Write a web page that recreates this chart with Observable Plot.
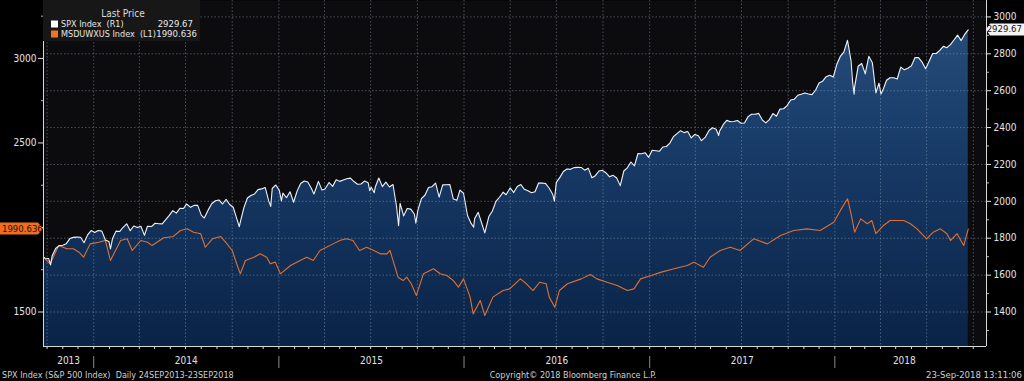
<!DOCTYPE html>
<html><head><meta charset="utf-8">
<script src="https://cdn.jsdelivr.net/npm/d3@7"></script>
<script src="https://cdn.jsdelivr.net/npm/@observablehq/plot@0.6"></script>
<style>
html,body{margin:0;padding:0;background:#000;}
#chart{width:1024px;height:381px;overflow:hidden;}
</style></head><body><div id="chart"></div>
<script>
// ---- SPX Index (right axis, R1)
const spxDates = ["2013-09-24","2013-09-27","2013-10-04","2013-10-08","2013-10-11","2013-10-18","2013-10-25","2013-11-01","2013-11-08","2013-11-15","2013-11-22","2013-11-29","2013-12-06","2013-12-13","2013-12-20","2013-12-27",
"2014-01-03","2014-01-10","2014-01-17","2014-01-24","2014-01-31","2014-02-03","2014-02-07","2014-02-14","2014-02-21","2014-02-28","2014-03-07","2014-03-14","2014-03-21","2014-03-28","2014-04-04","2014-04-11","2014-04-17","2014-04-25","2014-05-02","2014-05-09","2014-05-16","2014-05-23","2014-05-30","2014-06-06","2014-06-13","2014-06-20","2014-06-27","2014-07-03","2014-07-11","2014-07-18","2014-07-25","2014-08-01","2014-08-07","2014-08-15","2014-08-22","2014-08-29","2014-09-05","2014-09-12","2014-09-19","2014-09-26","2014-10-03","2014-10-10","2014-10-15","2014-10-17","2014-10-24","2014-10-31","2014-11-07","2014-11-14","2014-11-21","2014-11-28","2014-12-05","2014-12-12","2014-12-16","2014-12-19","2014-12-26",
"2015-01-02","2015-01-06","2015-01-09","2015-01-16","2015-01-23","2015-01-30","2015-02-06","2015-02-13","2015-02-20","2015-02-27","2015-03-06","2015-03-11","2015-03-13","2015-03-20","2015-03-27","2015-04-02","2015-04-10","2015-04-17","2015-04-24","2015-05-01","2015-05-08","2015-05-15","2015-05-22","2015-05-29","2015-06-05","2015-06-12","2015-06-19","2015-06-26","2015-06-29","2015-07-02","2015-07-08","2015-07-10","2015-07-17","2015-07-24","2015-07-31","2015-08-07","2015-08-14","2015-08-21","2015-08-25","2015-08-28","2015-09-04","2015-09-11","2015-09-18","2015-09-25","2015-09-28","2015-10-02","2015-10-09","2015-10-16","2015-10-23","2015-10-30","2015-11-06","2015-11-13","2015-11-20","2015-11-27","2015-12-04","2015-12-11","2015-12-18","2015-12-24","2015-12-31",
"2016-01-08","2016-01-15","2016-01-20","2016-01-22","2016-01-29","2016-02-05","2016-02-11","2016-02-19","2016-02-26","2016-03-04","2016-03-11","2016-03-18","2016-03-24","2016-04-01","2016-04-08","2016-04-15","2016-04-22","2016-04-29","2016-05-06","2016-05-13","2016-05-20","2016-05-27","2016-06-03","2016-06-10","2016-06-17","2016-06-24","2016-06-27","2016-07-01","2016-07-08","2016-07-15","2016-07-22","2016-07-29","2016-08-05","2016-08-12","2016-08-19","2016-08-26","2016-09-02","2016-09-09","2016-09-16","2016-09-23","2016-09-30","2016-10-07","2016-10-14","2016-10-21","2016-10-28","2016-11-04","2016-11-11","2016-11-18","2016-11-25","2016-12-02","2016-12-09","2016-12-16","2016-12-23","2016-12-30",
"2017-01-06","2017-01-13","2017-01-20","2017-01-27","2017-02-03","2017-02-10","2017-02-17","2017-02-24","2017-03-03","2017-03-10","2017-03-17","2017-03-24","2017-03-31","2017-04-07","2017-04-13","2017-04-21","2017-04-28","2017-05-05","2017-05-12","2017-05-17","2017-05-19","2017-05-26","2017-06-02","2017-06-09","2017-06-16","2017-06-23","2017-06-30","2017-07-07","2017-07-14","2017-07-21","2017-07-28","2017-08-04","2017-08-11","2017-08-18","2017-08-25","2017-09-01","2017-09-08","2017-09-15","2017-09-22","2017-09-29","2017-10-06","2017-10-13","2017-10-20","2017-10-27","2017-11-03","2017-11-10","2017-11-17","2017-11-24","2017-12-01","2017-12-08","2017-12-15","2017-12-22","2017-12-29",
"2018-01-05","2018-01-12","2018-01-19","2018-01-26","2018-02-02","2018-02-05","2018-02-08","2018-02-09","2018-02-16","2018-02-23","2018-03-02","2018-03-09","2018-03-16","2018-03-23","2018-03-29","2018-04-02","2018-04-06","2018-04-13","2018-04-20","2018-04-27","2018-05-04","2018-05-11","2018-05-18","2018-05-25","2018-06-01","2018-06-08","2018-06-15","2018-06-22","2018-06-29","2018-07-06","2018-07-13","2018-07-20","2018-07-27","2018-08-03","2018-08-10","2018-08-17","2018-08-24","2018-08-31","2018-09-07","2018-09-14","2018-09-21"];
const spxClose = [1697.42,1691.75,1690.50,1655.45,1703.20,1744.50,1759.77,1761.64,1770.61,1798.18,1804.76,1805.81,1805.09,1775.32,1818.32,1841.40,
1831.37,1842.37,1838.70,1790.29,1782.59,1741.89,1797.02,1838.63,1836.25,1859.45,1878.04,1841.13,1866.52,1857.62,1865.09,1815.69,1864.85,1863.40,1881.14,1878.48,1877.86,1900.53,1923.57,1949.44,1936.16,1962.87,1960.96,1985.44,1967.57,1978.22,1978.34,1925.15,1909.57,1955.06,1988.40,2003.37,2007.71,1985.54,2010.40,1982.85,1967.90,1906.13,1862.49,1886.76,1964.58,2018.05,2031.92,2039.82,2063.50,2067.56,2075.37,2002.33,1972.74,2070.65,2088.77,
2058.20,2002.61,2044.81,2019.42,2051.82,1994.99,2055.47,2096.99,2110.30,2104.50,2071.26,2040.24,2053.40,2108.10,2061.02,2066.96,2102.06,2081.18,2117.69,2108.29,2116.10,2122.73,2126.06,2107.39,2092.83,2094.11,2109.99,2101.49,2057.64,2076.78,2046.68,2076.62,2126.64,2079.65,2103.84,2077.57,2091.54,1970.89,1867.61,1988.87,1921.22,1961.05,1958.03,1931.34,1881.77,1951.36,2014.89,2033.11,2075.15,2079.36,2099.20,2023.04,2089.17,2090.11,2091.69,2012.37,2005.55,2060.99,2043.94,
1922.03,1880.33,1859.33,1906.90,1940.24,1880.05,1829.08,1917.78,1948.05,1999.99,2022.19,2049.58,2035.94,2072.78,2047.60,2080.73,2091.58,2065.30,2057.14,2046.61,2052.32,2099.06,2099.13,2096.07,2071.22,2037.41,2000.54,2102.95,2129.90,2161.74,2175.03,2173.60,2182.87,2184.05,2183.87,2169.04,2179.98,2127.81,2139.16,2164.69,2168.27,2153.74,2132.98,2141.16,2126.41,2085.18,2164.45,2181.90,2213.35,2191.95,2259.53,2258.07,2263.79,2238.83,
2276.98,2274.64,2271.31,2294.69,2297.42,2316.10,2351.16,2367.34,2383.12,2372.60,2378.25,2343.98,2362.72,2355.54,2328.95,2348.69,2384.20,2399.29,2390.90,2357.03,2381.73,2415.82,2439.07,2431.77,2433.15,2438.30,2423.41,2425.18,2459.27,2472.54,2472.10,2476.83,2441.32,2425.55,2443.05,2476.55,2461.43,2500.23,2502.22,2519.36,2549.33,2553.17,2575.21,2581.07,2587.84,2582.30,2578.85,2602.42,2642.22,2651.50,2675.81,2683.34,2673.61,
2743.15,2786.24,2810.30,2872.87,2762.13,2648.94,2581.00,2619.55,2732.22,2747.30,2691.25,2786.57,2752.01,2588.26,2640.87,2581.88,2604.47,2656.30,2670.14,2669.91,2663.42,2727.72,2712.97,2721.33,2734.62,2779.03,2779.66,2754.88,2718.37,2759.82,2801.31,2801.83,2818.82,2840.35,2833.28,2850.13,2874.69,2901.52,2871.68,2904.98,2929.67];

// ---- MSDUWXUS Index (left axis, L1)
const msDates = ["2013-09-24","2013-10-07","2013-10-24","2013-11-09","2013-11-22","2013-12-03","2013-12-12","2013-12-25","2014-01-11","2014-01-24","2014-02-03","2014-02-23","2014-03-08","2014-03-18","2014-04-04","2014-04-17","2014-04-26","2014-05-19","2014-06-07","2014-06-21","2014-07-04","2014-07-17","2014-07-31","2014-08-09","2014-08-23","2014-09-08","2014-09-18","2014-10-01","2014-10-11","2014-10-17","2014-10-27","2014-11-13","2014-11-25","2014-12-08","2014-12-15","2014-12-25",
"2015-01-04","2015-01-24","2015-02-12","2015-02-25","2015-03-10","2015-03-23","2015-04-18","2015-05-01","2015-05-14","2015-05-27","2015-06-09","2015-06-23","2015-07-07","2015-07-20","2015-08-02","2015-08-08","2015-08-14","2015-08-24","2015-09-03","2015-09-10","2015-09-19","2015-09-29","2015-10-13","2015-10-26","2015-11-02","2015-11-15","2015-11-28","2015-12-11","2015-12-21","2015-12-31",
"2016-01-13","2016-01-19","2016-02-02","2016-02-11","2016-02-27","2016-03-18","2016-03-31","2016-04-21","2016-05-03","2016-05-16","2016-05-29","2016-06-11","2016-06-17","2016-06-28","2016-07-07","2016-07-23","2016-08-19","2016-09-06","2016-09-19","2016-10-09","2016-10-29","2016-11-18","2016-12-01","2016-12-14",
"2017-01-04","2017-01-24","2017-02-18","2017-03-16","2017-03-29","2017-04-17","2017-04-30","2017-05-20","2017-06-09","2017-06-28","2017-07-25","2017-08-21","2017-09-16","2017-10-12","2017-11-07","2017-12-03","2017-12-30",
"2018-01-12","2018-01-26","2018-02-02","2018-02-09","2018-02-21","2018-03-06","2018-03-15","2018-03-23","2018-04-07","2018-04-20","2018-05-17","2018-05-30","2018-06-12","2018-07-01","2018-07-14","2018-07-28","2018-08-10","2018-08-17","2018-08-30","2018-09-12","2018-09-21"];
const msClose = [1824,1785,1893,1874,1874,1854,1824,1903,1913,1923,1805,1923,1933,1864,1923,1913,1893,1939,1947,1982,1992,1972,1963,1883,1933,1947,1913,1864,1775,1726,1805,1824,1844,1824,1785,1795,
1726,1775,1805,1824,1805,1864,1903,1923,1933,1923,1864,1883,1864,1844,1844,1864,1805,1706,1686,1706,1667,1598,1726,1746,1756,1726,1716,1686,1647,1696,
1588,1489,1568,1479,1588,1627,1637,1696,1667,1627,1676,1667,1588,1528,1627,1667,1696,1722,1696,1676,1657,1627,1637,1696,
1716,1736,1756,1775,1795,1765,1824,1864,1883,1864,1933,1903,1953,1982,1992,1982,2031,
2101,2170,2081,1972,2051,2022,2041,1963,2012,2041,2041,2022,1992,1933,1972,1992,1963,1923,1963,1893,1990.636];

// ---- axes / labels
const rightTicks = [1400,1600,1800,2000,2200,2400,2600,2800,3000];
const rightMinor = [1300,1500,1700,1900,2100,2300,2500,2700,2900];
const leftLabelled = [1500,2500,3000];   // 2000 sits under the last-price tag
const leftHidden = [2000];
const leftMinor = [1750,2250,2750,3250];
const yearLabels = ["2013","2014","2015","2016","2017","2018"];
const spxLast = 2929.67, msLast = 1990.636;

// calibration of the two axes: left 1500 sits on right 1400, left 3000 on right 2775
const toRight = v => 1400 + (v - 1500) * (1375 / 1500);
const fromRight = v => 1500 + (v - 1400) * (1500 / 1375);

const FONT = "'Liberation Sans Narrow','DejaVu Sans Condensed','Liberation Sans',Arial,sans-serif";
const xDomain = [new Date("2013-09-24"), new Date("2018-10-27")];
const yDomain = [1213, 3089];

const spx = spxDates.map((d, i) => ({date: new Date(d), value: spxClose[i]}));
const ms = msDates.map((d, i) => ({date: new Date(d), value: toRight(msClose[i])}));

const quarters = d3.utcMonths(new Date("2013-10-01"), new Date("2018-10-02"), 3);
const months = d3.utcMonths(new Date("2013-10-01"), new Date("2018-10-27"));
const yearStarts = d3.utcYears(new Date("2014-01-01"), new Date("2018-01-02"));
const yearMids = yearLabels.map((lab, i) => {
  const y = +lab;
  const a = Math.max(+new Date(`${y}-01-01`), +xDomain[0]);
  const b = i === yearLabels.length - 1 ? +new Date("2018-10-02") : +new Date(`${y + 1}-01-01`);
  return {label: lab, mid: new Date((a + b) / 2)};
});

const gridStyle = {stroke: "#a8b6c8", strokeOpacity: 0.4, strokeDasharray: "1.5,2"};
const noText = () => "";

const plot = Plot.plot({
  width: 1024, height: 381,
  marginLeft: 43, marginRight: 38, marginTop: 0, marginBottom: 35,
  style: {background: "#000", color: "#e0e0e0", fontFamily: FONT, fontSize: "10px"},
  x: {type: "utc", domain: xDomain, axis: null},
  y: {domain: yDomain, axis: null},
  marks: [
    Plot.frame({fill: "#0c0c0f", stroke: "none"}),
    Plot.areaY(spx, {x: "date", y1: yDomain[0], y2: "value", fill: "#163660"}),
    Plot.ruleY(rightTicks, gridStyle),
    Plot.ruleX(quarters, gridStyle),
    Plot.lineY(ms, {x: "date", y: "value", stroke: "#e0702e", strokeWidth: 1.1}),
    Plot.lineY(spx, {x: "date", y: "value", stroke: "#eef0f6", strokeWidth: 1.1}),
    Plot.ruleX([xDomain[0], xDomain[1]], {stroke: "#d8d8d8", strokeWidth: 1}),
    Plot.ruleY([yDomain[0]], {stroke: "#d8d8d8", strokeWidth: 1}),
    Plot.axisY(rightTicks, {anchor: "right", tickSize: 4, tickPadding: 3, fontSize: 10, color: "#e6e6e6", label: null,
      tickFormat: d => String(d)}),
    Plot.axisY(rightMinor, {anchor: "right", tickSize: 2, color: "#bbb", tickFormat: noText, label: null}),
    Plot.axisY(leftLabelled.map(toRight), {anchor: "left", tickSize: 5, tickPadding: 2, fontSize: 10, color: "#e6e6e6", label: null,
      tickFormat: d => String(Math.round(fromRight(d)))}),
    Plot.axisY(leftHidden.map(toRight), {anchor: "left", tickSize: 5, color: "#e6e6e6", tickFormat: noText, label: null}),
    Plot.axisY(leftMinor.map(toRight), {anchor: "left", tickSize: 2, color: "#bbb", tickFormat: noText, label: null}),
    Plot.axisX(months, {anchor: "bottom", tickSize: 3, color: "#ddd", tickFormat: noText, label: null}),
    Plot.axisX(yearStarts, {anchor: "bottom", tickSize: 12, dy: 10, color: "#8a8a8a", tickFormat: noText, label: null}),
    Plot.text(yearMids, {x: "mid", text: "label", frameAnchor: "bottom", dy: 17, fill: "#e0e0e0", fontSize: 10})
  ]
});

document.getElementById("chart").appendChild(plot);

// gradient fill for the SPX area
const svg = d3.select(plot);
svg.insert("defs", ":first-child").html(
  `<linearGradient id="spxfill" gradientUnits="userSpaceOnUse" x1="0" y1="0" x2="0" y2="346">
     <stop offset="0" stop-color="#29507f"/><stop offset="0.45" stop-color="#173a66"/><stop offset="1" stop-color="#0a2347"/>
   </linearGradient>`);
svg.selectAll('g[aria-label="area"]').attr("fill", "url(#spxfill)");
svg.selectAll('g[aria-label="area"] path').attr("fill", "url(#spxfill)");

const yS = plot.scale("y");
const ann = svg.append("g").attr("font-family", FONT).attr("text-anchor", "start");

// legend box
const lg = ann.append("g");
lg.append("rect").attr("x", 43).attr("y", 0).attr("width", 157).attr("height", 41).attr("fill", "#171717");
lg.append("text").attr("x", 123).attr("y", 14).attr("text-anchor", "middle").attr("dominant-baseline", "middle")
  .attr("fill", "#dcdcdc").attr("font-size", 10).text("Last Price");
lg.append("rect").attr("x", 51).attr("y", 20.5).attr("width", 7).attr("height", 7).attr("fill", "#ffffff");
lg.append("rect").attr("x", 51).attr("y", 30.5).attr("width", 7).attr("height", 7).attr("fill", "#f07424");
const rows = [
  {name: "SPX Index  (R1)", value: spxLast.toFixed(2), y: 24, end: 193},
  {name: "MSDUWXUS Index  (L1)", value: String(msLast), y: 34, end: 197}
];
rows.forEach(r => {
  lg.append("text").attr("x", 61).attr("y", r.y).attr("text-anchor", "start").attr("dominant-baseline", "middle")
    .attr("fill", "#e6e6e6").attr("font-size", 9).style("white-space", "pre").text(r.name);
  lg.append("text").attr("x", r.end).attr("y", r.y).attr("text-anchor", "end").attr("dominant-baseline", "middle")
    .attr("fill", "#e6e6e6").attr("font-size", 9.5).text(r.value);
});

// last-value tags
const yr = yS.apply(spxLast);
ann.append("path").attr("d", `M986,${yr} L990,${yr - 6} L1024,${yr - 6} L1024,${yr + 6} L990,${yr + 6} Z`).attr("fill", "#f4f4f4");
ann.append("text").attr("x", 1022).attr("y", yr + 0.5).attr("text-anchor", "end").attr("dominant-baseline", "middle")
  .attr("fill", "#111").attr("font-size", 9.5).text(spxLast.toFixed(2));
const yl = yS.apply(toRight(msLast));
ann.append("path").attr("d", `M0,${yl - 6} L38,${yl - 6} L43,${yl} L38,${yl + 6} L0,${yl + 6} Z`).attr("fill", "#ee6f22");
ann.append("text").attr("x", 2).attr("y", yl + 0.5).attr("text-anchor", "start").attr("dominant-baseline", "middle")
  .attr("fill", "#2a1200").attr("font-size", 9.5).text(String(msLast));

// footer
const ft = ann.append("g").attr("fill", "#d0d0d0").attr("font-size", 9).style("white-space", "pre");
ft.append("text").attr("x", 2).attr("y", 378).attr("text-anchor", "start").text("SPX Index (S&P 500 Index)  Daily 24SEP2013-23SEP2018");
ft.append("text").attr("x", 573).attr("y", 378).attr("text-anchor", "middle").text("Copyright\u00A9 2018 Bloomberg Finance L.P.");
ft.append("text").attr("x", 1022).attr("y", 378).attr("text-anchor", "end").attr("font-size", 9.5).text("23-Sep-2018 13:11:06");
</script>
</body></html>
